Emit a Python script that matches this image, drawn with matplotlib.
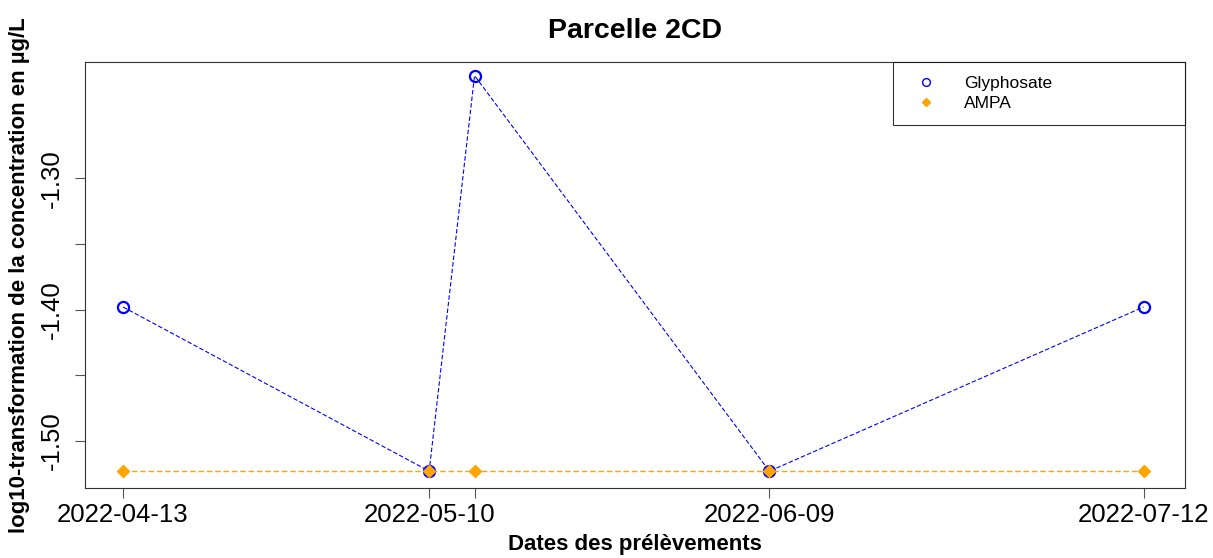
import numpy as np
import matplotlib.pyplot as plt
import matplotlib.dates as mdates

plt.rcParams['font.family'] = ['Liberation Sans', 'DejaVu Sans']

# Sampling dates and log10 concentrations (ug/L)
dates = np.array(['2022-04-13', '2022-05-10', '2022-05-14', '2022-06-09', '2022-07-12'],
                 dtype='datetime64[D]')
glyphosate = np.log10([0.04, 0.03, 0.06, 0.03, 0.04])
ampa = np.log10([0.03, 0.03, 0.03, 0.03, 0.03])
tick_labels = ['2022-04-13', '2022-05-10', '', '2022-06-09', '2022-07-12']
yticks = [-1.50, -1.45, -1.40, -1.35, -1.30]
ylabels = ['-1.50', '', '-1.40', '', '-1.30']

fig = plt.figure(figsize=(12.13, 5.58), dpi=100)
ax = fig.add_axes([85/1213, 1 - 488/558, 1100/1213, 426/558])

x = mdates.date2num(dates.astype(object))
ax.plot(x, glyphosate, linestyle=(0, (4, 2)), color='blue', lw=0.8,
        marker='o', mfc='none', mec='blue', ms=8, mew=1.6, label='Glyphosate')
ax.plot(x, ampa, linestyle=(0, (4, 2)), color='orange', lw=1.0,
        marker='D', mfc='orange', mec='orange', ms=6, label='AMPA')

ax.set_xlim(x[0] - 3.35, x[-1] + 3.65)
ax.set_ylim(-1.5357, -1.2115)

ax.set_xticks(x)
ax.set_xticklabels(tick_labels, fontsize=18.5)
ax.set_yticks(yticks)
ax.set_yticklabels(ylabels, fontsize=18.5, rotation=90, va='center')
ax.tick_params(direction='out', length=7, width=0.8, color='#555555')
ax.tick_params(axis='y', pad=8)
ax.tick_params(axis='x', pad=4)

for s in ax.spines.values():
    s.set_linewidth(0.8)
    s.set_color('#333333')

ax.set_title('Parcelle 2CD', fontsize=20.5, fontweight='bold', pad=17)
ax.set_xlabel('Dates des prélèvements', fontsize=16, fontweight='bold', labelpad=5)
ax.set_ylabel('log10-transformation de la concentration en µg/L', fontsize=16,
              fontweight='bold', labelpad=7)

leg = ax.legend(loc='upper right', bbox_to_anchor=(0.7345, 0.0, 0.2655, 1.0),
                mode='expand', borderaxespad=0,
                fontsize=12.5, frameon=True, fancybox=False, edgecolor='black',
                borderpad=0.8, handletextpad=1.1, labelspacing=0.3,
                handlelength=2.2, markerscale=0.7)
leg.get_frame().set_linewidth(0.8)
for h in leg.get_lines():
    h.set_linestyle('none')
    h.set_markeredgewidth(1.0)

fig.savefig('out.png', dpi=100)
